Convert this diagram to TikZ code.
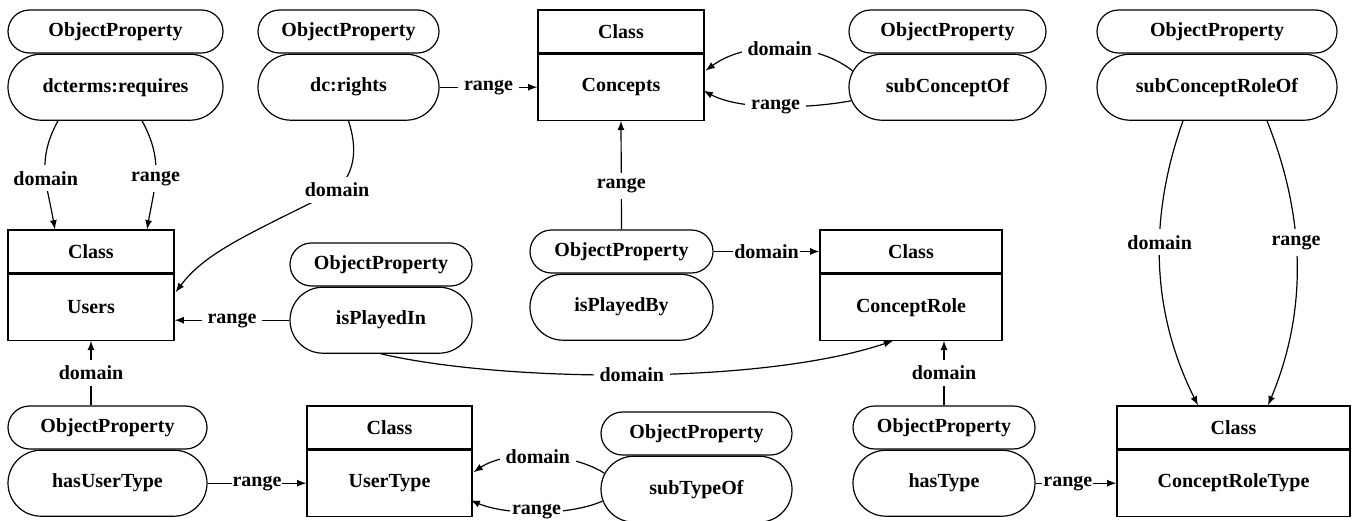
\documentclass[tikz,border=0pt]{standalone}
\usepackage{fontspec}
\setmainfont{Liberation Serif}
\usetikzlibrary{shapes.misc,positioning,calc}
\tikzset{
  prophead/.style={draw,rounded rectangle,minimum height=21.5pt,inner sep=0pt},
  propbody/.style={draw,rounded rectangle,minimum height=33pt,inner sep=0pt},
  classhead/.style={draw,rectangle,minimum height=21.5pt,inner sep=0pt},
  classbody/.style={draw,rectangle,minimum height=33pt,inner sep=0pt},
  lbl/.style={fill=white,inner sep=3pt},
  tightlbl/.style={fill=white,inner sep=0.5pt}
}
\begin{document}
\begin{tikzpicture}[>=latex,x=0.5pt,y=-0.5pt,font=\bfseries,line width=0.6pt]
        \useasboundingbox (0,0) rectangle (1360,520);
        % top row
        \node[prophead,minimum width=107.5pt] (pRequires) at (115.5,31.5) {ObjectProperty};
        \node[propbody,minimum width=107.5pt,below=0pt of pRequires] (requires) {dcterms:requires};
        \node[prophead,minimum width=90.5pt] (pRights) at (348.5,31.5) {ObjectProperty};
        \node[propbody,minimum width=90.5pt,below=0pt of pRights] (rights) {dc:rights};
        \node[classhead,minimum width=83pt] (cConcepts) at (621,31.5) {Class};
        \node[classbody,minimum width=83pt,below=0pt of cConcepts] (concepts) {Concepts};
        \node[prophead,minimum width=98.5pt] (pSubConcept) at (947.5,31.5) {ObjectProperty};
        \node[propbody,minimum width=98.5pt,below=0pt of pSubConcept] (subConcept) {subConceptOf};
        \node[prophead,minimum width=120pt] (pSubRole) at (1217,31.5) {ObjectProperty};
        \node[propbody,minimum width=120pt,below=0pt of pSubRole] (subRole) {subConceptRoleOf};
        % middle row
        \node[classhead,minimum width=83pt] (cUsers) at (91,251.5) {Class};
        \node[classbody,minimum width=83pt,below=0pt of cUsers] (users) {Users};
        \node[prophead,minimum width=91pt] (pPlayedIn) at (381,264.5) {ObjectProperty};
        \node[propbody,minimum width=91pt,below=0pt of pPlayedIn] (playedIn) {isPlayedIn};
        \node[prophead,minimum width=91.5pt] (pPlayedBy) at (621.5,251.5) {ObjectProperty};
        \node[propbody,minimum width=91.5pt,below=0pt of pPlayedBy] (playedBy) {isPlayedBy};
        \node[classhead,minimum width=91pt] (cRole) at (911,251.5) {Class};
        \node[classbody,minimum width=91pt,below=0pt of cRole] (role) {ConceptRole};
        % bottom row
        \node[prophead,minimum width=99.5pt] (pUserType) at (107.5,427.5) {ObjectProperty};
        \node[propbody,minimum width=99.5pt,below=0pt of pUserType] (hasUserType) {hasUserType};
        \node[classhead,minimum width=82.5pt] (cUserType) at (389.5,427.5) {Class};
        \node[classbody,minimum width=82.5pt,below=0pt of cUserType] (userType) {UserType};
        \node[prophead,minimum width=95.5pt] (pSubType) at (696.5,433.5) {ObjectProperty};
        \node[propbody,minimum width=95.5pt,below=0pt of pSubType] (subType) {subTypeOf};
        \node[prophead,minimum width=91pt] (pHasType) at (944,427.5) {ObjectProperty};
        \node[propbody,minimum width=91pt,below=0pt of pHasType] (hasType) {hasType};
        \node[classhead,minimum width=116.5pt] (cRoleType) at (1233.5,427.5) {Class};
        \node[classbody,minimum width=116.5pt,below=0pt of cRoleType] (roleType) {ConceptRoleType};
        \coordinate (rightsBend) at (337,190);
        % connectors
        \draw[->] ($(requires.south)+(-57.5,0)$) .. controls +(-22,40) and +(-8,-45) .. node[lbl,pos=0.55]{domain} ($(cUsers.north)+(-36,0)$);
        \draw[->] ($(requires.south)+(26.5,0)$) .. controls +(22,40) and +(8,-45) .. node[lbl,pos=0.55]{range} ($(cUsers.north)+(56,0)$);
        \draw[->] (rights.south) .. controls +(8,25) and +(20,-20) .. (rightsBend) node[lbl]{domain} .. controls +(-90,45) and +(30,-40) .. ($(users.east)+(1,-15)$);
        \draw[->] (rights.east) -- node[lbl]{range} (concepts.west);
        \draw[->] ($(subConcept.west)+(4,-16.5)$) .. controls +(-38,-30) and +(40,-30) .. node[lbl]{domain} ($(concepts.east)+(1,-16.5)$);
        \draw[->] ($(subConcept.west)+(3,13.5)$) .. controls +(-42,8) and +(37,20) .. node[lbl]{range} ($(concepts.east)+(-1,3.5)$);
        \draw[->] ($(subRole.south)+(-34,0)$) .. controls +(-32,90) and +(-50,-100) .. node[lbl,pos=0.44]{domain} ($(cRoleType.north)+(-35.5,0)$);
        \draw[->] ($(subRole.south)+(50,0)$) .. controls +(36,90) and +(42,-100) .. node[lbl,pos=0.44]{range} ($(cRoleType.north)+(34.5,0)$);
        \draw[->] (pPlayedBy.north) -- node[lbl,pos=0.4]{range} (concepts.south);
        \draw[->] (pPlayedBy.east) -- node[tightlbl]{domain} (cRole.west);
        \draw[->] (playedIn.west) -- node[lbl]{range} (users.east |- playedIn.west);
        \draw[->] (playedIn.south) .. controls +(119,28) and +(-133,45) .. node[lbl]{domain} ($(role.south)+(-18,0)$);
        \draw[->] (pUserType.north -| users.south) -- node[lbl]{domain} (users.south);
        \draw[->] (hasUserType.east) -- node[tightlbl]{range} (userType.west);
        \draw[->] ($(subType.west)+(4,-16)$) .. controls +(-35,-22) and +(32,-22) .. node[lbl]{domain} ($(userType.east)+(1,-11)$);
        \draw[->] ($(subType.west)+(2,12)$) .. controls +(-35,15) and +(35,15) .. node[lbl,inner sep=1pt]{range} ($(userType.east)+(-2,17)$);
        \draw[->] (pHasType.north) -- node[lbl]{domain} (pHasType.north |- role.south);
        \draw[->] (hasType.east) -- node[tightlbl,pos=0.4]{range} (roleType.west);
\end{tikzpicture}
\end{document}
